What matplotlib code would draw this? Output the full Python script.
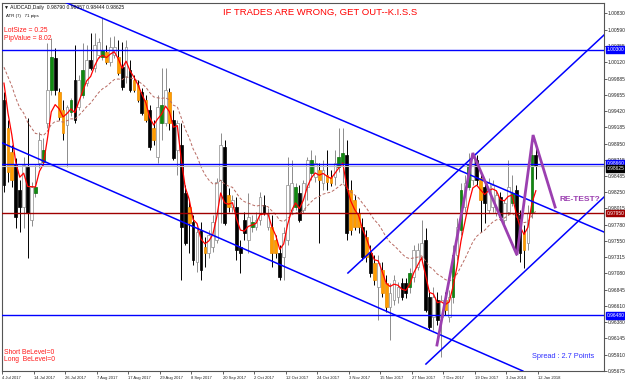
import matplotlib
matplotlib.use("Agg")
import matplotlib.pyplot as plt
from matplotlib.transforms import blended_transform_factory

plt.rcParams["font.family"] = ["Liberation Sans", "DejaVu Sans"]

# ==========================================
# DATA  (AUDCAD daily)
# ==========================================

opens = [
    0.9958, 0.9917, 0.9883, 0.9864, 0.9828, 0.9804, 0.9861, 0.9785, 0.9824, 0.9867,
    0.9868, 0.9925, 0.9972, 1.0018, 0.9969, 0.9943, 0.9922, 0.9940, 0.9987, 0.9948,
    0.9965, 0.9982, 1.0015, 1.0004, 1.0023, 1.0020, 1.0027, 1.0012, 1.0023, 1.0020,
    1.0005, 0.9991, 1.0001, 0.9987, 0.9979, 0.9969, 0.9958, 0.9943, 0.9917, 0.9876,
    0.9925, 0.9925, 0.9969, 0.9929, 0.9886, 0.9893, 0.9824, 0.9804, 0.9782, 0.9724,
    0.9771, 0.9746, 0.9737, 0.9746, 0.9756, 0.9843, 0.9890, 0.9821, 0.9804, 0.9804,
    0.9746, 0.9785, 0.9756, 0.9775, 0.9775, 0.9785, 0.9807, 0.9775, 0.9775, 0.9756,
    0.9737, 0.9732, 0.9756, 0.9799, 0.9804, 0.9824, 0.9799, 0.9832, 0.9853, 0.9847,
    0.9857, 0.9838, 0.9850, 0.9847, 0.9847, 0.9861, 0.9867, 0.9879, 0.9828, 0.9814,
    0.9795, 0.9775, 0.9760, 0.9737, 0.9723, 0.9688, 0.9713, 0.9694, 0.9660, 0.9670,
    0.9674, 0.9694, 0.9694, 0.9688, 0.9703, 0.9717, 0.9732, 0.9756, 0.9674, 0.9645,
    0.9670, 0.9645, 0.9670, 0.9645, 0.9674, 0.9735, 0.9771, 0.9804, 0.9832, 0.9843,
    0.9871, 0.9845, 0.9832, 0.9799, 0.9804, 0.9795, 0.9818, 0.9785, 0.9796, 0.9809,
    0.9828, 0.9792, 0.9766, 0.9752, 0.9795, 0.98790,
]
highs = [
    0.9969, 0.9929, 0.9893, 0.9874, 0.9843, 0.9876, 0.9932, 0.9840, 0.9864, 0.9912,
    0.9903, 1.0040, 1.0047, 1.0033, 0.9975, 0.9958, 0.9951, 0.9961, 1.0037, 0.9994,
    1.0040, 1.0037, 1.0054, 1.0054, 1.0047, 1.0076, 1.0037, 1.0048, 1.0050, 1.0044,
    1.0041, 1.0044, 1.0015, 0.9994, 0.9987, 0.9975, 0.9965, 0.9951, 0.9929, 0.9965,
    1.0004, 1.0004, 0.9975, 0.9943, 0.9929, 0.9925, 0.9835, 0.9814, 0.9792, 0.9773,
    0.9782, 0.9760, 0.9771, 0.9792, 0.9845, 0.9910, 0.9900, 0.9831, 0.9821, 0.9818,
    0.9756, 0.9796, 0.9824, 0.9792, 0.9796, 0.9825, 0.9821, 0.9802, 0.9792, 0.9763,
    0.9749, 0.9775, 0.9876, 0.9871, 0.9838, 0.9835, 0.9843, 0.9876, 0.9886, 0.9879,
    0.9867, 0.9871, 0.9886, 0.9857, 0.9886, 0.9917, 0.9917, 0.9900, 0.9843, 0.9821,
    0.9802, 0.9788, 0.9771, 0.9749, 0.9735, 0.9735, 0.9724, 0.9706, 0.9694, 0.9706,
    0.9696, 0.9701, 0.9701, 0.9716, 0.9749, 0.9752, 0.9785, 0.9773, 0.9684, 0.9688,
    0.9681, 0.9677, 0.9681, 0.9684, 0.9749, 0.9788, 0.9838, 0.9850, 0.9881, 0.9881,
    0.9879, 0.9854, 0.9843, 0.9845, 0.9843, 0.9828, 0.9825, 0.9814, 0.9871, 0.9850,
    0.9835, 0.9799, 0.9778, 0.9807, 0.9907, 0.98957,
]
lows = [
    0.9825, 0.9840, 0.9832, 0.9773, 0.9768, 0.9773, 0.9730, 0.9776, 0.9818, 0.9860,
    0.9863, 0.9917, 0.9965, 0.9965, 0.9929, 0.9900, 0.9861, 0.9935, 0.9925, 0.9943,
    0.9961, 0.9978, 1.0001, 0.9998, 1.0018, 1.0015, 1.0010, 1.0007, 1.0018, 0.9994,
    0.9972, 0.9982, 0.9969, 0.9969, 0.9955, 0.9936, 0.9926, 0.9886, 0.9893, 0.9867,
    0.9900, 0.9920, 0.9915, 0.9871, 0.9850, 0.9699, 0.9749, 0.9737, 0.9720, 0.9710,
    0.9699, 0.9717, 0.9730, 0.9739, 0.9752, 0.9781, 0.9778, 0.9796, 0.9796, 0.9727,
    0.9709, 0.9756, 0.9737, 0.9768, 0.9771, 0.9778, 0.9792, 0.9771, 0.9717, 0.9730,
    0.9699, 0.9699, 0.9749, 0.9795, 0.9799, 0.9782, 0.9795, 0.9814, 0.9843, 0.9840,
    0.9752, 0.9828, 0.9828, 0.9834, 0.9835, 0.9854, 0.9838, 0.9756, 0.9763, 0.9771,
    0.9766, 0.9727, 0.9724, 0.9703, 0.9691, 0.9641, 0.9674, 0.9652, 0.9612, 0.9663,
    0.9665, 0.9670, 0.9673, 0.9680, 0.9696, 0.9713, 0.9724, 0.9652, 0.9627, 0.9627,
    0.9634, 0.9588, 0.9648, 0.9638, 0.9665, 0.9727, 0.9763, 0.9796, 0.9828, 0.9835,
    0.9835, 0.9768, 0.9781, 0.9795, 0.9796, 0.9791, 0.9785, 0.9778, 0.9792, 0.9805,
    0.9735, 0.9724, 0.9716, 0.9742, 0.9788, 0.98444,
]
closes = [
    0.9835, 0.9854, 0.9843, 0.9789, 0.9804, 0.9864, 0.9795, 0.9832, 0.9832, 0.9900,
    0.9886, 0.9972, 1.0020, 0.9972, 0.9933, 0.9910, 0.9948, 0.9958, 0.9929, 0.9987,
    1.0001, 1.0015, 1.0004, 1.0037, 1.0041, 1.0030, 1.0012, 1.0034, 1.0034, 0.9997,
    0.9976, 1.0034, 0.9972, 0.9972, 0.9958, 0.9939, 0.9929, 0.9890, 0.9900, 0.9948,
    0.9951, 0.9972, 0.9925, 0.9874, 0.9925, 0.9775, 0.9752, 0.9781, 0.9727, 0.9768,
    0.9713, 0.9737, 0.9763, 0.9782, 0.9840, 0.9893, 0.9781, 0.9804, 0.9814, 0.9742,
    0.9737, 0.9766, 0.9789, 0.9782, 0.9785, 0.9818, 0.9795, 0.9795, 0.9737, 0.9737,
    0.9703, 0.9766, 0.9835, 0.9838, 0.9832, 0.9785, 0.9838, 0.9871, 0.9871, 0.9867,
    0.9843, 0.9857, 0.9840, 0.9838, 0.9867, 0.9876, 0.9881, 0.9766, 0.9771, 0.9775,
    0.9775, 0.9732, 0.9732, 0.9709, 0.9699, 0.9723, 0.9680, 0.9660, 0.9680, 0.9699,
    0.9688, 0.9674, 0.9680, 0.9709, 0.9742, 0.9742, 0.9752, 0.9655, 0.9631, 0.9674,
    0.9641, 0.9670, 0.9655, 0.9674, 0.9735, 0.9775, 0.9828, 0.9838, 0.9864, 0.9874,
    0.9843, 0.9814, 0.9809, 0.9838, 0.9835, 0.9821, 0.9789, 0.9809, 0.9832, 0.9824,
    0.9742, 0.9737, 0.9742, 0.9795, 0.9879, 0.98625,
]
# k = black bear, o = orange bear, w = hollow bull, g = green bull
styles = ("kookkwkwgw" "gwgkoowgkw" "gwkwwgowwo" "kwkookokow" "gwokwkkokw"
          "kowwwwkowk" "kkwgwwkwoo" "kwwwgkwwgw" "owoowggkoo" "okokowooww"
          "wkkgwwwkkw" "kwowgwgwgw" "kokwwwkwwg" "kkowgk")

# moving averages (value at first bar, then EMA)
fast_start, fast_period = 0.9982, 5
slow_start, slow_period = 1.0005, 21

date_bars = [0, 8, 16, 24, 32, 40, 48, 56, 64, 72, 80, 88, 96, 104, 112, 120, 128, 136]
date_labels = ["4 Jul 2017", "14 Jul 2017", "26 Jul 2017", "7 Aug 2017", "17 Aug 2017",
               "29 Aug 2017", "8 Sep 2017", "20 Sep 2017", "2 Oct 2017", "12 Oct 2017",
               "24 Oct 2017", "3 Nov 2017", "15 Nov 2017", "27 Nov 2017", "7 Dec 2017",
               "19 Dec 2017", "3 Jan 2018", "12 Jan 2018"]

price_ticks = [0.95675, 0.95910, 0.96145, 0.96380, 0.96610, 0.96845, 0.97080, 0.97315,
               0.97550, 0.97780, 0.98015, 0.98250, 0.98485, 0.98715, 0.98950, 0.99185,
               0.99420, 0.99655, 0.99885, 1.00120, 1.00355, 1.00590, 1.00830]

# horizontal levels: price, line colour, label box colour
level_prices = [1.00300, 0.98660, 0.97950, 0.96480]
level_colors = ["#0000ff", "#0000ff", "#a00000", "#0000ff"]
bid_price = 0.98625

# trend lines: (bar, price) anchors
down_upper = [(14.2, 1.01017), (152.3, 0.97676)]
down_lower = [(-1.0, 0.98972), (131.7, 0.95675)]
up_upper = [(87.3, 0.97086), (152.3, 1.00513)]
up_lower = [(107.1, 0.95775), (152.3, 0.98180)]
zigzag_bars = [109.9, 119.0, 130.2, 134.3, 139.9]
zigzag_prices = [0.96049, 0.98814, 0.97345, 0.99073, 0.98036]

# ==========================================
# PLOT
# ==========================================

W, H = 625, 382
fig = plt.figure(figsize=(W / 100, H / 100), dpi=100)
ax = fig.add_axes([2 / W, 11 / H, 602 / W, 368 / H])
ax.set_xlim(-0.5, 152.3)
ax.set_ylim(0.95675, 1.00974)

face = {"k": "#000000", "o": "#ff9c00", "w": "#ffffff", "g": "#108a10"}
edge = {"k": "#000000", "o": "#e88a00", "w": "#8c8c8c", "g": "#0b6e0b"}
wick = {"k": "#000000", "o": "#000000", "w": "#8c8c8c", "g": "#8c8c8c"}

n = len(closes)
xs = list(range(n))
bottoms = [min(o, c) for o, c in zip(opens, closes)]
heights = [max(abs(c - o), 0.00004) for o, c in zip(opens, closes)]

ax.vlines(xs, lows, highs, colors=[wick[s] for s in styles], linewidth=0.7, zorder=2)
ax.bar(xs, heights, bottom=bottoms, width=0.7,
       color=[face[s] for s in styles], edgecolor=[edge[s] for s in styles],
       linewidth=0.5, zorder=3)

# moving averages
fast, slow = [fast_start], [slow_start]
a_f, a_s = 2 / (fast_period + 1), 2 / (slow_period + 1)
for c in closes[1:]:
    fast.append(fast[-1] + a_f * (c - fast[-1]))
    slow.append(slow[-1] + a_s * (c - slow[-1]))
ax.plot(xs, slow, color="#b86a62", lw=0.7, ls=(0, (3, 2)), zorder=4)
ax.plot(xs, fast, color="#ff0000", lw=0.9, zorder=4)

# horizontal levels
for p, col in zip(level_prices, level_colors):
    ax.axhline(p, color=col, lw=1.0, zorder=5)
ax.axhline(bid_price, color="#c0c0c0", lw=0.8, zorder=4)

# trend lines
for line in (down_upper, down_lower, up_upper, up_lower):
    ax.plot([line[0][0], line[1][0]], [line[0][1], line[1][1]], color="#0000ff", lw=1.1, zorder=5)

ax.plot(zigzag_bars, zigzag_prices, color="#9b3fb0", lw=2.0, solid_joinstyle="miter", zorder=6)
ax.text(141.1, 0.9814, "RE-TEST?", color="#9b3fb0", fontsize=6, fontweight="bold",
        va="center", ha="left", zorder=7)

# axes styling
for sp in ax.spines.values():
    sp.set_color("#555555")
    sp.set_linewidth(0.8)
ax.yaxis.tick_right()
ax.set_yticks(price_ticks)
ax.set_yticklabels([f"{v:.5f}" for v in price_ticks])
ax.tick_params(axis="y", length=2, width=0.5, labelsize=3.5, pad=0.8, colors="#222222")
ax.set_xticks([b - 0.5 for b in date_bars])
ax.set_xticklabels(date_labels, ha="left")
ax.tick_params(axis="x", length=2, width=0.5, labelsize=3.0, pad=1.5, colors="#222222")

# price boxes on the right scale
tr = blended_transform_factory(ax.transAxes, ax.transData)
for p, col in zip(level_prices, level_colors):
    ax.text(1.005, p, f"{p:.5f}", transform=tr, fontsize=3.5, color="white", ha="left",
            va="center", clip_on=False, zorder=8,
            bbox=dict(boxstyle="square,pad=0.2", fc=col, ec=col))
ax.text(1.005, bid_price - 0.0003, f"{bid_price:.5f}", transform=tr, fontsize=3.5,
        color="white", ha="left", va="center", clip_on=False, zorder=8,
        bbox=dict(boxstyle="square,pad=0.2", fc="#000000", ec="#000000"))

# text overlays
def ftext(x, y, s, **kw):
    fig.text(x / W, 1 - y / H, s, va="center", ha="left", **kw)

ftext(4, 7, "\u25bc AUDCAD,Daily  0.98790 0.98957 0.98444 0.98625", fontsize=3.6, color="#111111")
ftext(6, 16, "ATR (7)   71 pips", fontsize=3.2, color="#111111")
ftext(4, 30, "LotSize = 0.25", fontsize=4.9, color="#ff1a1a")
ftext(4, 38.5, "PipValue = 8.02", fontsize=4.9, color="#ff1a1a")
ftext(223, 12, "IF TRADES ARE WRONG, GET OUT--K.I.S.S", fontsize=6.8, color="#ff0000")
ftext(4, 352, "Short BeLevel=0", fontsize=4.9, color="#ff1a1a")
ftext(4, 359.5, "Long  BeLevel=0", fontsize=4.9, color="#ff1a1a")
ftext(532, 357, "Spread : 2.7 Points", fontsize=5.3, color="#3030ff")

fig.savefig("out.png", dpi=100)
